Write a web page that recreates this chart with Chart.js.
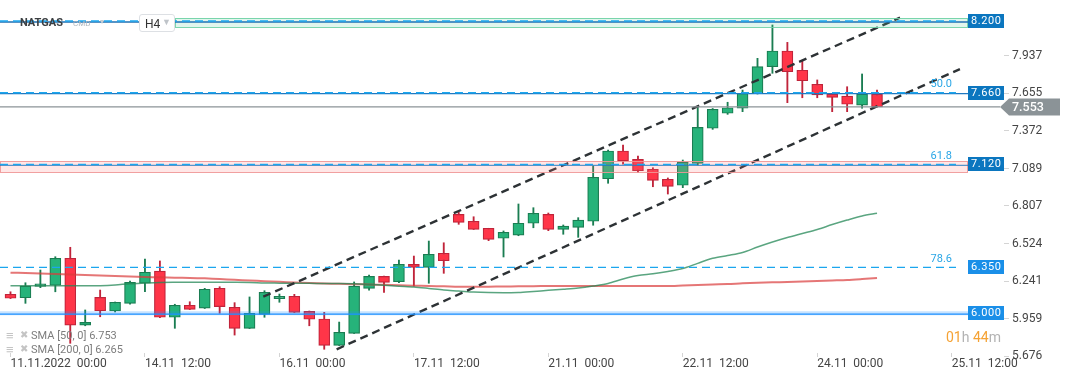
<!DOCTYPE html>
<html><head><meta charset="utf-8">
<script src="https://cdn.jsdelivr.net/npm/chart.js@4.4.0/dist/chart.umd.min.js"></script>
<style>
html,body{margin:0;padding:0;background:#fff;}
#wrap{position:relative;width:1072px;height:382px;font-family:Roboto,'Open Sans',sans-serif;overflow:hidden;}
#c{position:absolute;left:0;top:0;}
.ov{position:absolute;white-space:pre;line-height:1;}
</style></head><body>
<div id="wrap">
<canvas id="c" width="1072" height="382"></canvas>
<div class="ov" style="left:20px;top:17px;font-size:11px;font-weight:bold;color:#3c4043;">NATGAS</div>
<div class="ov" style="left:73px;top:20px;font-size:8px;color:#aeb6be;">CMD</div>
<div class="ov" style="left:100px;top:18px;font-size:8px;color:#c8ced3;">▾</div>
<div class="ov" style="left:139px;top:14px;width:34px;height:16px;border:1px solid #dde0e4;border-radius:3px;background:#fff;"></div>
<div class="ov" style="left:145px;top:18px;font-size:12px;color:#333;">H4</div>
<div class="ov" style="left:162px;top:18px;font-size:9px;color:#bfc4c9;">▼</div>
<div class="ov" style="left:6px;top:329px;font-size:13px;font-weight:bold;color:#c4c4c4;">≡</div>
<div class="ov" style="left:20px;top:330px;font-size:10px;color:#c4c4c4;">✖</div>
<div class="ov" style="left:31px;top:330px;font-size:11px;color:#7d7d7d;">SMA [50, 0] 6.753</div>
<div class="ov" style="left:6px;top:343px;font-size:13px;font-weight:bold;color:#c4c4c4;">≡</div>
<div class="ov" style="left:20px;top:344px;font-size:10px;color:#c4c4c4;">✖</div>
<div class="ov" style="left:31px;top:344px;font-size:11px;color:#7d7d7d;">SMA [200, 0] 6.265</div>
<div class="ov" style="left:946px;top:330px;font-size:14px;"><span style="color:#f5a234">01</span><span style="color:#b3b3b3">h</span> <span style="color:#f5a234">44</span><span style="color:#b3b3b3">m</span></div>
</div>
<script>
// ---- data ----
const tickIndex = [0, 9, 18, 27, 36, 45, 54, 63];
const tickLabels = ['11.11.2022  00:00', '14.11  12:00', '16.11  00:00', '17.11  12:00', '21.11  00:00', '22.11  12:00', '24.11  00:00', '25.11  12:00'];
const yTicks = [5.676, 5.959, 6.241, 6.524, 6.807, 7.089, 7.372, 7.655, 7.937];

const opens  = [6.142,6.116,6.202,6.210,6.413,5.909,6.119,6.016,6.074,6.225,6.317,5.969,6.059,6.037,6.187,6.044,5.886,5.991,6.109,6.127,6.014,5.956,5.758,5.848,6.187,6.277,6.237,6.368,6.345,6.451,6.744,6.692,6.639,6.564,6.588,6.677,6.744,6.631,6.646,6.692,7.012,7.221,7.158,7.083,7.008,6.963,7.128,7.392,7.505,7.543,7.655,7.856,7.974,7.829,7.723,7.650,7.635,7.567,7.648];
const highs  = [6.161,6.229,6.325,6.425,6.496,6.024,6.174,6.084,6.242,6.408,6.393,6.067,6.086,6.187,6.199,6.079,6.122,6.169,6.144,6.142,6.016,6.006,5.933,6.235,6.287,6.280,6.400,6.430,6.543,6.530,6.759,6.726,6.639,6.619,6.822,6.794,6.754,6.664,6.719,7.108,7.228,7.266,7.183,7.095,7.018,7.153,7.556,7.541,7.588,7.680,7.919,8.170,8.039,7.899,7.756,7.650,7.705,7.801,7.680];
const lows   = [6.110,6.074,6.192,6.161,5.773,5.905,5.973,6.009,6.067,6.161,5.966,5.886,6.027,6.035,5.999,5.835,5.884,5.969,6.082,6.005,5.905,5.728,5.756,5.847,6.174,6.157,6.229,6.204,6.225,6.300,6.669,6.630,6.546,6.423,6.583,6.643,6.621,6.594,6.571,6.662,6.978,7.121,7.058,6.952,6.897,6.945,7.116,7.384,7.497,7.517,7.650,7.806,7.585,7.622,7.622,7.517,7.517,7.543,7.553];
const closes = [6.112,6.204,6.220,6.413,5.909,5.931,6.018,6.082,6.232,6.308,5.969,6.059,6.029,6.180,6.049,5.886,5.999,6.157,6.127,6.006,5.954,5.758,5.856,6.204,6.277,6.232,6.368,6.345,6.443,6.395,6.684,6.631,6.556,6.609,6.677,6.752,6.631,6.656,6.701,7.023,7.221,7.146,7.073,7.000,6.955,7.138,7.399,7.535,7.547,7.655,7.856,7.974,7.818,7.750,7.643,7.625,7.573,7.650,7.553];

const sma50  = [6.207,6.207,6.207,6.207,6.207,6.207,6.207,6.212,6.222,6.227,6.231,6.232,6.232,6.232,6.232,6.232,6.231,6.227,6.226,6.225,6.225,6.223,6.223,6.221,6.216,6.210,6.203,6.197,6.186,6.174,6.167,6.159,6.155,6.154,6.155,6.163,6.172,6.180,6.189,6.204,6.223,6.257,6.283,6.296,6.314,6.336,6.375,6.413,6.434,6.457,6.498,6.536,6.570,6.600,6.630,6.667,6.701,6.732,6.753];
const sma200 = [6.305,6.302,6.299,6.295,6.291,6.287,6.283,6.280,6.276,6.272,6.270,6.267,6.265,6.262,6.257,6.251,6.246,6.241,6.236,6.231,6.227,6.223,6.221,6.218,6.216,6.213,6.210,6.207,6.204,6.202,6.199,6.199,6.199,6.201,6.202,6.203,6.204,6.204,6.204,6.204,6.204,6.204,6.204,6.204,6.204,6.208,6.212,6.216,6.219,6.225,6.229,6.232,6.235,6.238,6.242,6.246,6.250,6.257,6.265];

// trend channel (bar index, price)
const channelUpper = [[16.92, 6.124], [59.54, 8.225]];
const channelLower = [[21.83, 5.728], [63.55, 7.838]];

// horizontal levels
const priceBoxLevels = [8.200, 7.660, 7.120, 6.350, 6.000];
const solidLevels = [8.200, 7.660, 7.120, 6.000];
const fibLevels = [8.200, 7.660, 7.120, 6.345];
const fibLabels = ['', '50.0', '61.8', '78.6'];
const bandRanges = [[8.152, 8.221], [7.065, 7.146]];
const bandStartIndex = [11, null];
const lastPrice = closes[closes.length - 1];

// ---- styles ----
const GREEN = '#26b37a', GREEN_B = '#1a7d52', RED = '#ff3548', RED_B = '#c0243a';
const boxColors = ['#0b76bf', '#0b76bf', '#0b76bf', '#1a8fe8', '#1a8fe8'];
const solidColors = ['#1f6fb2', '#1f78c1', 'rgba(31,120,193,0.75)', '#1e90ff'];
const bandFill = ['rgba(90,205,155,0.18)', 'rgba(255,120,120,0.18)'];
const bandStroke = ['rgba(110,210,165,0.9)', 'rgba(240,150,150,0.9)'];

const idx = opens.map((_, i) => i);
const up = i => closes[i] >= opens[i];

Chart.defaults.font.family = 'Roboto, "Open Sans", sans-serif';

const levelsPlugin = {
  id: 'levels',
  afterDatasetsDraw(chart) {
    const { ctx, chartArea: a, scales: { x, y } } = chart;
    const boxL = a.right - 36;
    ctx.save();
    bandRanges.forEach((b, k) => {
      const y1 = Math.round(y.getPixelForValue(b[1])), y2 = Math.round(y.getPixelForValue(b[0]));
      const x1 = bandStartIndex[k] == null ? a.left : Math.round(x.getPixelForValue(bandStartIndex[k]));
      ctx.fillStyle = bandFill[k];
      ctx.fillRect(x1, y1, boxL - x1, y2 - y1);
      ctx.strokeStyle = bandStroke[k];
      ctx.lineWidth = 1;
      ctx.strokeRect(x1 + 0.5, y1 + 0.5, boxL - x1 - 1, y2 - y1);
    });
    solidLevels.forEach((v, k) => {
      const py = y.getPixelForValue(v);
      if (v === 6.000) {
        ctx.strokeStyle = 'rgba(30,144,255,0.25)'; ctx.lineWidth = 4;
        ctx.beginPath(); ctx.moveTo(a.left, py); ctx.lineTo(boxL, py); ctx.stroke();
      }
      ctx.strokeStyle = solidColors[k]; ctx.lineWidth = 1.3;
      ctx.beginPath(); ctx.moveTo(a.left, py + 1); ctx.lineTo(boxL, py + 1); ctx.stroke();
    });
    ctx.setLineDash([8, 5]);
    ctx.strokeStyle = '#1ba6ee'; ctx.lineWidth = 1.4;
    fibLevels.forEach(v => {
      const py = y.getPixelForValue(v);
      ctx.beginPath(); ctx.moveTo(a.left, py); ctx.lineTo(boxL - 12, py); ctx.stroke();
    });
    ctx.setLineDash([]);
    ctx.fillStyle = '#2aa6e6'; ctx.font = '11px Roboto'; ctx.textAlign = 'right'; ctx.textBaseline = 'middle';
    fibLevels.forEach((v, k) => {
      if (!fibLabels[k]) return;
      ctx.fillText(fibLabels[k], boxL - 16, y.getPixelForValue(v) - 8.5);
    });
    const lp = y.getPixelForValue(lastPrice);
    ctx.strokeStyle = '#8b9397'; ctx.lineWidth = 1.2;
    ctx.beginPath(); ctx.moveTo(a.left, lp); ctx.lineTo(a.right - 4, lp); ctx.stroke();
    ctx.restore();
  },
  afterDraw(chart) {
    const { ctx, chartArea: a, scales: { y } } = chart;
    const boxL = a.right - 36;
    ctx.save();
    ctx.font = '11px Roboto'; ctx.textBaseline = 'middle'; ctx.textAlign = 'left';
    try { ctx.letterSpacing = '0.6px'; } catch (e) {}
    priceBoxLevels.forEach((v, k) => {
      const py = Math.round(y.getPixelForValue(v));
      ctx.fillStyle = boxColors[k];
      ctx.fillRect(boxL, py - 7, 36, 14);
      ctx.fillStyle = '#fff';
      ctx.fillText(v.toFixed(3), boxL + 3, py + 0.5);
    });
    const lp = Math.round(y.getPixelForValue(lastPrice));
    ctx.fillStyle = '#8b9397';
    ctx.beginPath();
    ctx.moveTo(a.right - 4, lp);
    ctx.lineTo(a.right + 5, lp - 8.5);
    ctx.lineTo(a.right + 56, lp - 8.5);
    ctx.lineTo(a.right + 56, lp + 8.5);
    ctx.lineTo(a.right + 5, lp + 8.5);
    ctx.closePath(); ctx.fill();
    try { ctx.letterSpacing = '0px'; } catch (e) {}
    ctx.fillStyle = '#fff'; ctx.font = '500 12.5px Roboto';
    ctx.fillText(lastPrice.toFixed(3), a.right + 8, lp + 0.5);
    ctx.restore();
  }
};

new Chart(document.getElementById('c'), {
  type: 'bar',
  data: {
    datasets: [
      { type: 'bar', label: 'wick', data: idx.map(i => ({ x: i, y: [lows[i], highs[i]] })),
        backgroundColor: c => up(c.dataIndex) ? GREEN_B : RED_B, borderWidth: 0,
        barThickness: 1.2, grouped: false, order: 10 },
      { type: 'bar', label: 'body', data: idx.map(i => ({ x: i, y: [opens[i], closes[i]] })),
        backgroundColor: c => up(c.dataIndex) ? GREEN : RED,
        borderColor: c => up(c.dataIndex) ? GREEN_B : RED_B,
        borderWidth: 1.2, borderSkipped: false, barThickness: 11, grouped: false, order: 9 },
      { type: 'line', label: 'SMA200', data: idx.map(i => ({ x: i, y: sma200[i] })),
        borderColor: 'rgba(218,60,60,0.7)', borderWidth: 2, pointRadius: 0, tension: 0.3, order: 8 },
      { type: 'line', label: 'SMA50', data: idx.map(i => ({ x: i, y: sma50[i] })),
        borderColor: 'rgba(35,135,85,0.75)', borderWidth: 1.5, pointRadius: 0, tension: 0.3, order: 7 },
      { type: 'line', label: 'upper', data: channelUpper.map(p => ({ x: p[0], y: p[1] })),
        borderColor: '#2d3235', borderWidth: 2.4, borderDash: [8, 5], pointRadius: 0, order: 1 },
      { type: 'line', label: 'lower', data: channelLower.map(p => ({ x: p[0], y: p[1] })),
        borderColor: '#2d3235', borderWidth: 2.4, borderDash: [8, 5], pointRadius: 0, order: 1 }
    ]
  },
  options: {
    responsive: false, animation: false, devicePixelRatio: 1,
    layout: { padding: 0 },
    plugins: { legend: { display: false }, tooltip: { enabled: false } },
    scales: {
      x: {
        type: 'linear', min: -0.703, max: 66.5, offset: false,
        afterFit(s) { s.height = 29; s.paddingLeft = 0; s.paddingRight = 0; },
        afterBuildTicks(s) { s.ticks = tickIndex.map(v => ({ value: v })); },
        grid: { drawOnChartArea: false, tickLength: 4, color: '#d4d4d4', offset: false },
        border: { display: false },
        ticks: { align: 'start', padding: 0, color: '#454545', font: { size: 12 }, maxRotation: 0, autoSkip: false,
          callback: v => tickLabels[tickIndex.indexOf(v)] }
      },
      y: {
        type: 'linear', position: 'right', min: 5.70, max: 8.358,
        afterFit(s) { s.width = 68; s.paddingTop = 0; s.paddingBottom = 0; },
        afterBuildTicks(s) { s.ticks = yTicks.map(v => ({ value: v })); },
        grid: { drawOnChartArea: false, tickLength: 5, color: '#d4d4d4' },
        border: { display: false },
        ticks: { padding: 3, color: '#454545', font: { size: 12 }, callback: v => v.toFixed(3) }
      }
    }
  },
  plugins: [levelsPlugin]
});
</script>
</body></html>
